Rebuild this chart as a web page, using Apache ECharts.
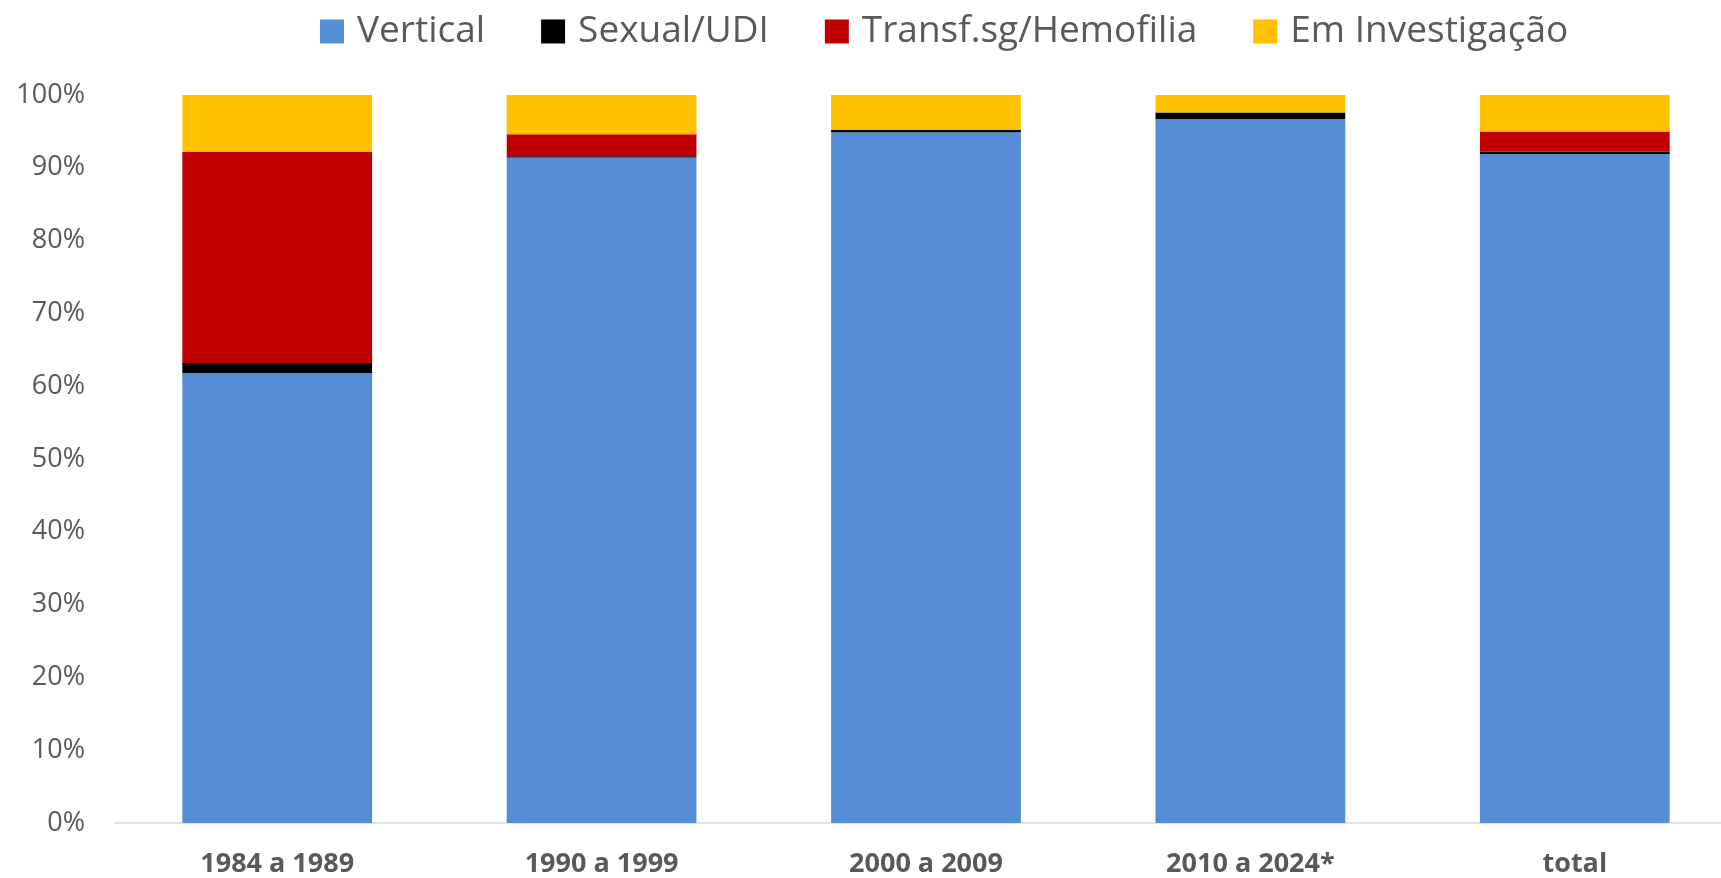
<!DOCTYPE html>
<html>
<head>
<meta charset="utf-8">
<script src="https://cdn.jsdelivr.net/npm/echarts@6/dist/echarts.min.js"></script>
<style>
  html, body { margin: 0; padding: 0; background: #fff; overflow: hidden; }
  /* a bit wider than the window: the last category runs off the right edge like the original */
  #chart { width: 1740px; height: 878px; }
</style>
</head>
<body>
<div id="chart"></div>
<script>
// categorias (períodos)
const categories = ["1984 a 1989", "1990 a 1999", "2000 a 2009", "2010 a 2024*", "total"]
// valores em %
const vertical     = [61.8, 91.4, 94.9, 96.7, 91.9]
const sexualUdi    = [1.4, 0.2, 0.3, 0.9, 0.3]
const transfHemo   = [29.0, 3.0, 0.0, 0.0, 2.8]
const emInvestig   = [7.8, 5.4, 4.8, 2.4, 5.0]
const yTicks = [0, 10, 20, 30, 40, 50, 60, 70, 80, 90, 100]

const font = "'Open Sans', sans-serif"

let myChart = echarts.init(document.getElementById("chart"))

function serie(name, data, color) {
  return {
    name: name,
    type: "bar",
    stack: "total",
    barWidth: "58.5%",
    itemStyle: { color: color },
    data: data
  }
}

let option = {
  animation: false,
  textStyle: { fontFamily: font },
  legend: {
    top: 8,
    left: 315,
    itemWidth: 24,
    itemHeight: 24,
    itemGap: 56,
    icon: "rect",
    textStyle: { fontSize: 37, color: "#595959", fontFamily: font, padding: [0, 0, 0, 8] }
  },
  grid: {
    left: 115,
    right: 3,
    top: 95,
    bottom: 55,
    containLabel: false
  },
  xAxis: {
    type: "category",
    data: categories,
    axisTick: { show: false },
    axisLine: { lineStyle: { color: "#d9d9d9", width: 1.5 } },
    axisLabel: {
      margin: 28,
      fontSize: 27,
      fontWeight: "bold",
      color: "#595959",
      fontFamily: font
    }
  },
  yAxis: {
    type: "value",
    min: yTicks[0],
    max: yTicks[yTicks.length - 1],
    interval: 10,
    splitLine: { show: false },
    axisLine: { show: false },
    axisTick: { show: false },
    axisLabel: {
      margin: 30,
      fontSize: 27,
      color: "#595959",
      fontFamily: font,
      formatter: (v) => v + "%"
    }
  },
  series: [
    serie("Vertical", vertical, "#558ed5"),
    serie("Sexual/UDI", sexualUdi, "#000000"),
    serie("Transf.sg/Hemofilia", transfHemo, "#c00000"),
    serie("Em Investigação", emInvestig, "#ffc000")
  ]
}

myChart.setOption(option)
</script>
</body>
</html>
